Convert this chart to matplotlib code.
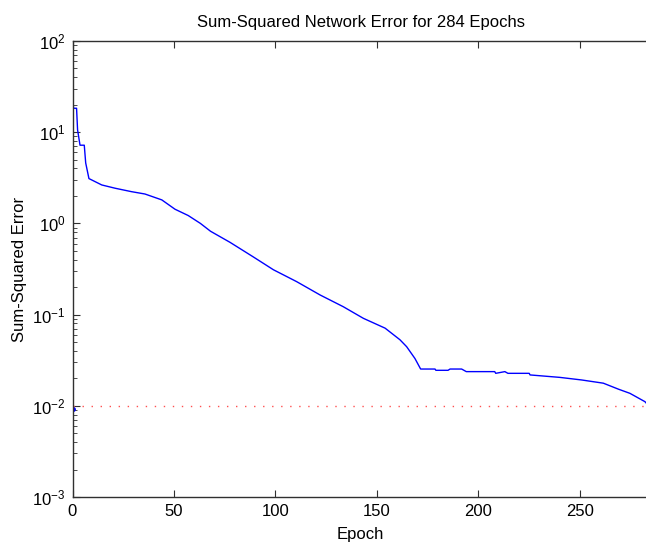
import numpy as np
import matplotlib
matplotlib.use("Agg")
import matplotlib.pyplot as plt

plt.rcParams['font.family'] = ['Liberation Sans', 'DejaVu Sans']
plt.rcParams['mathtext.default'] = 'regular'

# Sum-squared error
epochs = [0, 0.5, 2, 2.5, 3.7, 5.8, 6.5, 8.1, 9.4, 14.4, 21, 29, 35.7, 44,
          50.5, 57, 63, 68, 77.6, 89, 99, 110.4, 122, 133.4, 143.3, 154,
          161.3, 164.6, 168.7, 171.5, 178.6, 179, 185, 186, 191.7, 194, 208,
          208.5, 213, 214.5, 225, 225.4, 240, 250.8, 261.5, 269, 274.6, 282,
          284]
sse = [25, 18.3, 18.3, 10.6, 7.2, 7.2, 4.6, 3.1, 3.0, 2.64, 2.43, 2.23, 2.1,
       1.81, 1.43, 1.22, 1.0, 0.82, 0.62, 0.43, 0.31, 0.23, 0.164, 0.122,
       0.091, 0.071, 0.053, 0.0445, 0.033, 0.0253, 0.0253, 0.0245, 0.0245,
       0.0253, 0.0253, 0.0237, 0.0237, 0.0227, 0.0237, 0.0227, 0.0227,
       0.0218, 0.0205, 0.0192, 0.0177, 0.0152, 0.0137, 0.0111, 0.0099]
goal = 1e-2
start_marker = (0, 0.0092)
n_epochs = 284

fig = plt.figure(figsize=(6.46, 5.42), dpi=100)
ax = fig.add_axes([72.5 / 646, 45 / 542, 576.5 / 646, 456 / 542])

ax.semilogy(epochs, sse, color='#0000ff', lw=1.0)
ax.axhline(goal, color='#ff5050', lw=1.0, ls=(0, (1, 5.5)))
ax.plot(*start_marker, '.', color='#0000ff', ms=5)

ax.set_xlim(0, n_epochs)
ax.set_ylim(1e-3, 1e2)
ax.set_xticks([0, 50, 100, 150, 200, 250])

ax.tick_params(which='both', direction='in', top=True, right=False,
               labelsize=12, color='#303030', pad=5)
ax.tick_params(which='major', length=5)
ax.tick_params(which='minor', length=3)
ax.tick_params(axis='x', which='minor', top=False, bottom=False)
for s in ax.spines.values():
    s.set_color('#303030')
    s.set_linewidth(1.0)

ax.set_title('Sum-Squared Network Error for 284 Epochs', fontsize=12, pad=10)
ax.set_xlabel('Epoch', fontsize=12, labelpad=6)
ax.set_ylabel('Sum-Squared Error', fontsize=12, labelpad=4)

fig.savefig('out.png', dpi=100)
